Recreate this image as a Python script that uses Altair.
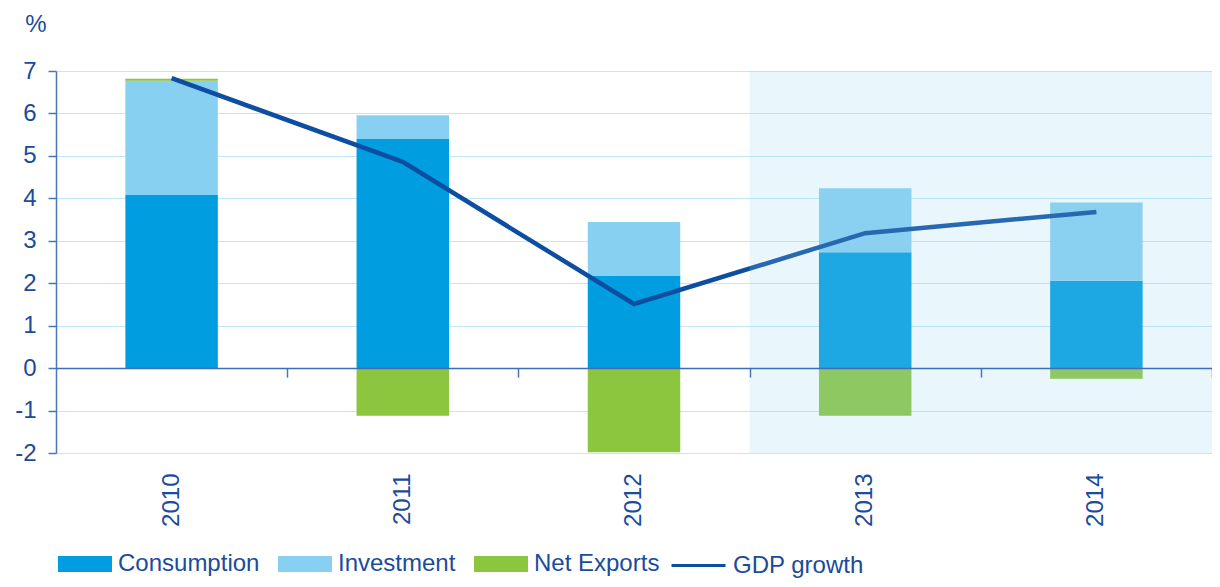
import altair as alt
import pandas as pd

years = ["2010", "2011", "2012", "2013", "2014"]
consumption = [4.08, 5.40, 2.17, 2.73, 2.06]
investment = [2.69, 0.56, 1.27, 1.51, 1.84]
net_exports = [0.05, -1.12, -1.98, -1.12, -0.25]
gdp_growth = [6.83, 4.86, 1.51, 3.18, 3.68]
forecast_years = ["2013", "2014"]
components = ["Consumption", "Investment", "Net Exports"]
colors = ["#009ee0", "#88d0f2", "#8cc63f"]
line_name = ["GDP growth"]
line_color = ["#0d4ea2"]
y_ticks = [-2, -1, 0, 1, 2, 3, 4, 5, 6, 7]
unit_label = ["%"]

rows = []
for i, y in enumerate(years):
    rows.append({"year": y, "component": "Consumption", "value": consumption[i], "order": 1})
    rows.append({"year": y, "component": "Investment", "value": investment[i], "order": 2})
    rows.append({"year": y, "component": "Net Exports", "value": net_exports[i], "order": 3})
bars_df = pd.DataFrame(rows)
gdp_df = pd.DataFrame({"year": years, "gdp": gdp_growth, "series": line_name * len(years)})
fc_df = pd.DataFrame({"year": forecast_years})
unit_df = pd.DataFrame({"label": unit_label})

TXT = "#1a4b9c"
AX = "#4a76b9"
FONT = "Liberation Sans"
H = 382
W = 1156
STEP = W / len(years)

x_scale = alt.Scale(domain=years, paddingInner=0.6, paddingOuter=0.3)

# axis carrying the year labels (at the bottom of the plot)
x_labels = alt.X(
    "year:N",
    sort=years,
    scale=x_scale,
    axis=alt.Axis(
        title=None,
        orient="bottom",
        labelAngle=-90,
        labelAlign="right",
        labelBaseline="middle",
        labelPadding=20,
        labelFontSize=24,
        labelFont=FONT,
        labelColor=TXT,
        ticks=False,
        domain=False,
        grid=False,
    ),
)

# axis line drawn at zero with ticks between categories
x_zero = alt.X(
    "year:N",
    sort=years,
    scale=x_scale,
    axis=alt.Axis(
        title=None,
        orient="bottom",
        offset=-(2 / 9) * H,
        labels=False,
        tickOffset=STEP / 2,
        tickSize=9,
        tickColor=AX,
        tickWidth=1.5,
        domainColor="#3d6db4",
        domainWidth=1.5,
        grid=False,
        zindex=1,
    ),
)

y_scale = alt.Scale(domain=[-2, 7], nice=False, zero=False)

legend_common = dict(
    title=None,
    orient="none",
    legendY=466,
    direction="horizontal",
    labelFontSize=24,
    labelFont=FONT,
    labelColor=TXT,
    labelOffset=6,
    columnPadding=18,
    symbolSize=2916,
    padding=0,
)

bars = alt.Chart(bars_df).mark_bar().encode(
    x=x_labels,
    y=alt.Y(
        "value:Q",
        stack="zero",
        scale=y_scale,
        axis=alt.Axis(
            values=y_ticks,
            labelExpr="replace(datum.label, '\u2212', '-')",
            title=None,
            labelFontSize=24,
            labelFont=FONT,
            labelColor=TXT,
            labelPadding=12,
            tickSize=8,
            tickColor=AX,
            tickWidth=1.5,
            domainColor=AX,
            domainWidth=1.5,
            gridColor="#c3e7f7",
            gridWidth=1.2,
        ),
    ),
    color=alt.Color(
        "component:N",
        scale=alt.Scale(domain=components, range=colors),
        legend=alt.Legend(
            legendX=2,
            symbolType="M-1,-0.3H1V0.3H-1Z",
            symbolStrokeWidth=0,
            **legend_common,
        ),
    ),
    order=alt.Order("order:Q"),
)

line = alt.Chart(gdp_df).mark_line(strokeWidth=4.5).encode(
    x=x_zero,
    y=alt.Y("gdp:Q", scale=y_scale),
    stroke=alt.Stroke(
        "series:N",
        scale=alt.Scale(domain=line_name, range=line_color),
        legend=alt.Legend(
            legendX=614,
            symbolType="stroke",
            symbolStrokeWidth=3,
            **legend_common,
        ),
    ),
)

shade = alt.Chart(fc_df).mark_bar(
    width=alt.RelativeBandSize(2.5), color="#8fd0f0", opacity=0.2
).encode(
    x=alt.X("year:N", sort=years, axis=None),
    y=alt.Y(datum=7, scale=y_scale),
    y2=alt.Y2(datum=-2),
)

unit = alt.Chart(unit_df).mark_text(
    font=FONT, fontSize=24, color=TXT, align="center", baseline="middle"
).encode(
    text="label:N",
    x=alt.value(-20),
    y=alt.value(-46),
)

chart = (
    alt.layer(bars, line, shade, unit)
    .resolve_axis(x="independent")
    .resolve_legend(color="independent", stroke="independent")
    .properties(
        width=W,
        height=H,
        autosize="none",
        padding={"left": 48, "top": 63, "right": 0, "bottom": 126},
    )
    .configure_view(stroke=None)
    .configure(font=FONT)
)

chart.save("out.html", embed_options={"renderer": "svg", "actions": False})
